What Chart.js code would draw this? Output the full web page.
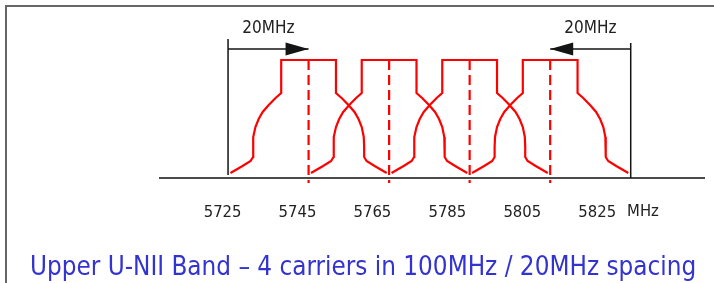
<!DOCTYPE html>
<html>
<head>
<meta charset="utf-8">
<script src="https://cdn.jsdelivr.net/npm/chart.js@4"></script>
<style>
  html, body { margin: 0; padding: 0; background: #fff; }
  #wrap { position: relative; width: 714px; height: 283px; overflow: hidden; }
  #frame {
    position: absolute; left: 5px; top: 5px; right: 0; bottom: 0;
    border-top: 2px solid #666; border-left: 2px solid #666;
  }
  #chart { position: absolute; left: 0; top: 0; }
  #title {
    position: absolute; left: 30px; top: 253px; white-space: nowrap;
    font-family: "DejaVu Sans Condensed", "DejaVu Sans", sans-serif;
    font-stretch: condensed;
    font-size: 25.8px; line-height: 26px; color: #3333cf;
  }
</style>
</head>
<body>
<div id="wrap">
  <canvas id="chart" width="714" height="283"></canvas>
  <div id="frame"></div>
  <div id="title">Upper U-NII Band – 4 carriers in 100MHz / 20MHz spacing</div>
</div>
<script>
// channel centres (MHz) and the spectral mask of one carrier
const carrierCentres = [5745, 5765, 5785, 5805];
// left half of the mask: offset from centre (MHz) and level, bottom to top
const maskOffset = [-19.4, -16.4, -14.4, -13.8, -13.8, -13.7, -13.2, -12.4, -11.4, -9.9, -8.2, -6.8, -6.8];
const maskLevel = [5, 12, 17, 21, 31, 41, 51, 59, 66, 73, 80, 85, 118];
const centreLineTop = 118;
const centreLineBottom = -5;

// band edges with the 20MHz arrows
const bandEdges = [5725, 5825];
const edgeTop = [139, 135];
const edgeBottom = [3, 0];
const arrowLevel = 129;
const arrowSpan = 20;

const tickLabels = [5725, 5745, 5765, 5785, 5805, 5825];
const unitLabel = "MHz";

const RED = "#ff0000";
const INK = "#141414";
const FONT = "'DejaVu Sans Condensed', 'DejaVu Sans', sans-serif";

function maskPoints(c) {
  const left = maskOffset.map((o, i) => ({ x: c + o, y: maskLevel[i] }));
  const right = maskOffset.map((o, i) => ({ x: c - o, y: maskLevel[i] })).reverse();
  return left.concat(right);
}

const datasets = [];

carrierCentres.forEach((c) => {
  datasets.push({
    data: maskPoints(c),
    borderColor: RED,
    borderWidth: 2.2,
    pointRadius: 0,
    tension: 0,
    clip: false,
  });
  datasets.push({
    data: [{ x: c, y: centreLineTop }, { x: c, y: centreLineBottom }],
    borderColor: RED,
    borderWidth: 2.2,
    borderDash: [10, 5],
    pointRadius: 0,
    clip: false,
  });
});

bandEdges.forEach((e, i) => {
  datasets.push({
    data: [{ x: e, y: edgeTop[i] }, { x: e, y: edgeBottom[i] }],
    borderColor: INK,
    borderWidth: 1.5,
    pointRadius: 0,
    clip: false,
  });
  // arrow points inward from each edge
  const dir = i === 0 ? 1 : -1;
  datasets.push({
    label: `${arrowSpan}MHz`,
    arrow: true,
    data: [{ x: e, y: arrowLevel }, { x: e + dir * arrowSpan, y: arrowLevel }],
    borderColor: INK,
    borderWidth: 1.5,
    pointRadius: 0,
    clip: false,
  });
});

const decor = {
  id: "decor",
  afterDatasetsDraw(chart) {
    const { ctx } = chart;
    const { x, y, x2 } = chart.scales;
    ctx.save();
    chart.data.datasets.forEach((ds) => {
      if (!ds.arrow) return;
      const a = ds.data[0];
      const b = ds.data[ds.data.length - 1];
      const tx = x.getPixelForValue(b.x);
      const ty = y.getPixelForValue(b.y);
      const dir = Math.sign(b.x - a.x);
      ctx.fillStyle = INK;
      ctx.beginPath();
      ctx.moveTo(tx, ty);
      ctx.lineTo(tx - dir * 23, ty - 6.5);
      ctx.lineTo(tx - dir * 23, ty + 6.5);
      ctx.closePath();
      ctx.fill();
      ctx.font = `17px ${FONT}`;
      ctx.textAlign = "center";
      ctx.textBaseline = "alphabetic";
      ctx.fillStyle = "#222";
      ctx.fillText(ds.label, x.getPixelForValue((a.x + b.x) / 2), ty - 16);
    });
    // unit after the last tick label
    const last = tickLabels[tickLabels.length - 1];
    ctx.font = `16.5px ${FONT}`;
    const w = ctx.measureText(String(last)).width;
    const ly = chart.chartArea.bottom + 25;
    ctx.textAlign = "left";
    ctx.textBaseline = "top";
    ctx.fillStyle = "#222";
    ctx.fillText(unitLabel, x2.getPixelForValue(last) + w / 2 + 11, ly);
    ctx.restore();
  },
};

new Chart(document.getElementById("chart"), {
  type: "line",
  data: { datasets },
  options: {
    responsive: false,
    devicePixelRatio: 1,
    animation: false,
    layout: { padding: { top: 20, right: 10, bottom: 0, left: 160 } },
    plugins: { legend: { display: false }, tooltip: { enabled: false } },
    scales: {
      x: { type: "linear", display: false, min: 5708.1, max: 5843.2 },
      x2: {
        type: "linear",
        position: "bottom",
        min: 5708.3,
        max: 5853.5,
        afterBuildTicks: (s) => { s.ticks = tickLabels.map((v) => ({ value: v })); },
        afterFit: (s) => { s.height = 105; },
        grid: { display: false, drawTicks: false },
        border: { display: true, color: "#4a4a4a", width: 2 },
        ticks: {
          padding: 25,
          autoSkip: false,
          maxRotation: 0,
          color: "#222",
          font: { family: FONT, size: 16.5 },
          callback: (v) => String(v),
        },
      },
      y: { type: "linear", display: false, min: 0, max: 158 },
    },
  },
  plugins: [decor],
});
</script>
</body>
</html>
